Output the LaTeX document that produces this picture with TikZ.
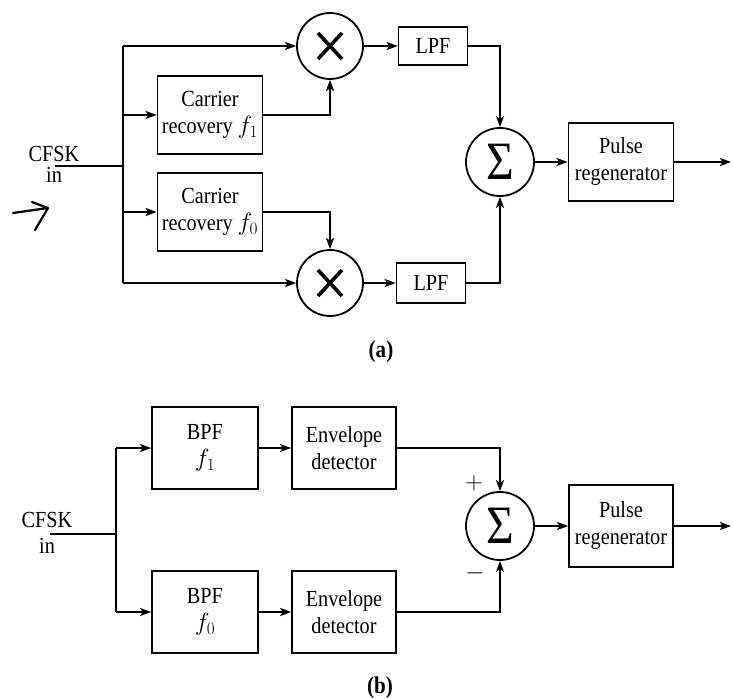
\documentclass[tikz,border=0pt]{standalone}
\usepackage{fontspec}
\setmainfont{Liberation Serif}[FakeStretch=0.88]
\usepackage{tikz}
\usetikzlibrary{arrows.meta}
\tikzset{
    blk/.style={draw, line width=1.8pt, inner sep=0pt, align=center, font=\fontsize{23}{27}\selectfont},
    mult/.style={draw, circle, line width=1.8pt, minimum size=66pt, inner sep=0pt,
      path picture={\draw[line width=3.6pt] (path picture bounding box.center) ++(-12pt,-13pt) -- ++(24pt,26pt)
        (path picture bounding box.center) ++(-12pt,13pt) -- ++(24pt,-26pt);}},
    summ/.style={draw, circle, line width=1.8pt, minimum size=68pt, inner sep=0pt, font=\fontsize{54}{54}\selectfont},
    lbl/.style={inner sep=0pt, align=center, font=\fontsize{23}{21}\selectfont},
    arw/.tip={Stealth[length=11pt,width=8pt,inset=2.5pt]}}

\begin{document}
\begin{tikzpicture}[x=1pt,y=-1pt,line width=1.8pt]
\useasboundingbox (0,0) rectangle (732,698);

\node[lbl] (in1) at (54,164.5) {CFSK\\in};
\coordinate (i1) at (55,166);
\coordinate (v1) at (123,166);
\coordinate (v2) at (123,46);
\coordinate (v3) at (123,115);
\coordinate (v4) at (123,212);
\coordinate (v5) at (123,283);
\node[blk, minimum width=105pt, minimum height=78pt] (c1) at (210,115) {Carrier\\recovery $f_1$};
\node[blk, minimum width=105pt, minimum height=78pt] (c0) at (210,212) {Carrier\\recovery $f_0$};
\node[mult] (m1) at (330,46) {};
\node[mult] (m0) at (330,283) {};
\node[blk, minimum width=69pt, minimum height=38pt] (l1) at (433,46) {LPF};
\node[blk, minimum width=69pt, minimum height=40pt] (l0) at (431,283) {LPF};
\node[summ] (s1) at (500,162) {Σ};
\node[blk, minimum width=105pt, minimum height=78pt] (r1) at (621,162) {Pulse\\regenerator};
\coordinate (o1) at (731,162);
\draw (i1) -- (v1);
\draw (v2) -- (v5);
\draw[-{arw}] (v2) -- (m1);
\draw[-{arw}] (v3) -- (c1);
\draw[-{arw}] (v4) -- (c0);
\draw[-{arw}] (v5) -- (m0);
\draw[-{arw}] (c1) -| (m1);
\draw[-{arw}] (c0) -| (m0);
\draw[-{arw}] (m1) -- (l1);
\draw[-{arw}] (m0) -- (l0);
\draw[-{arw}] (l1) -| (s1);
\draw[-{arw}] (l0) -| (s1);
\draw[-{arw}] (s1) -- (r1);
\draw[-{arw}] (r1) -- (o1);
\node[lbl, font=\fontsize{24}{24}\selectfont\bfseries] (ta) at (381,352) {(a)};
\draw[line width=2.2pt, line cap=round, line join=round] (13,213) -- (48,208) (32,202) -- (48,208) -- (35,230);

\node[lbl, font=\fontsize{23}{26}\selectfont] (in2) at (47,532.5) {CFSK\\in};
\coordinate (i2) at (50,534);
\coordinate (w1) at (116,534);
\coordinate (w2) at (116,448);
\coordinate (w3) at (116,612);
\node[blk, minimum width=106pt, minimum height=82pt] (b1) at (205,448) {BPF\\$f_1$};
\node[blk, minimum width=106pt, minimum height=82pt] (b0) at (205,612) {BPF\\$f_0$};
\node[blk, minimum width=104pt, minimum height=82pt] (e1) at (344,448) {Envelope\\detector};
\node[blk, minimum width=104pt, minimum height=82pt] (e0) at (344,612) {Envelope\\detector};
\node[summ] (s2) at (500,526) {Σ};
\node[blk, minimum width=104pt, minimum height=82pt] (r2) at (621,526) {Pulse\\regenerator};
\coordinate (o2) at (731,526);
\node[lbl] (pl) at (474,483) {$+$};
\node[lbl] (mi) at (475,573) {$-$};
\draw (i2) -- (w1);
\draw (w2) -- (w3);
\draw[-{arw}] (w2) -- (b1);
\draw[-{arw}] (w3) -- (b0);
\draw[-{arw}] (b1) -- (e1);
\draw[-{arw}] (b0) -- (e0);
\draw[-{arw}] (e1) -| (s2);
\draw[-{arw}] (e0) -| (s2);
\draw[-{arw}] (s2) -- (r2);
\draw[-{arw}] (r2) -- (o2);
\node[lbl, font=\fontsize{24}{24}\selectfont\bfseries] (tb) at (380,688) {(b)};
\end{tikzpicture}
\end{document}
